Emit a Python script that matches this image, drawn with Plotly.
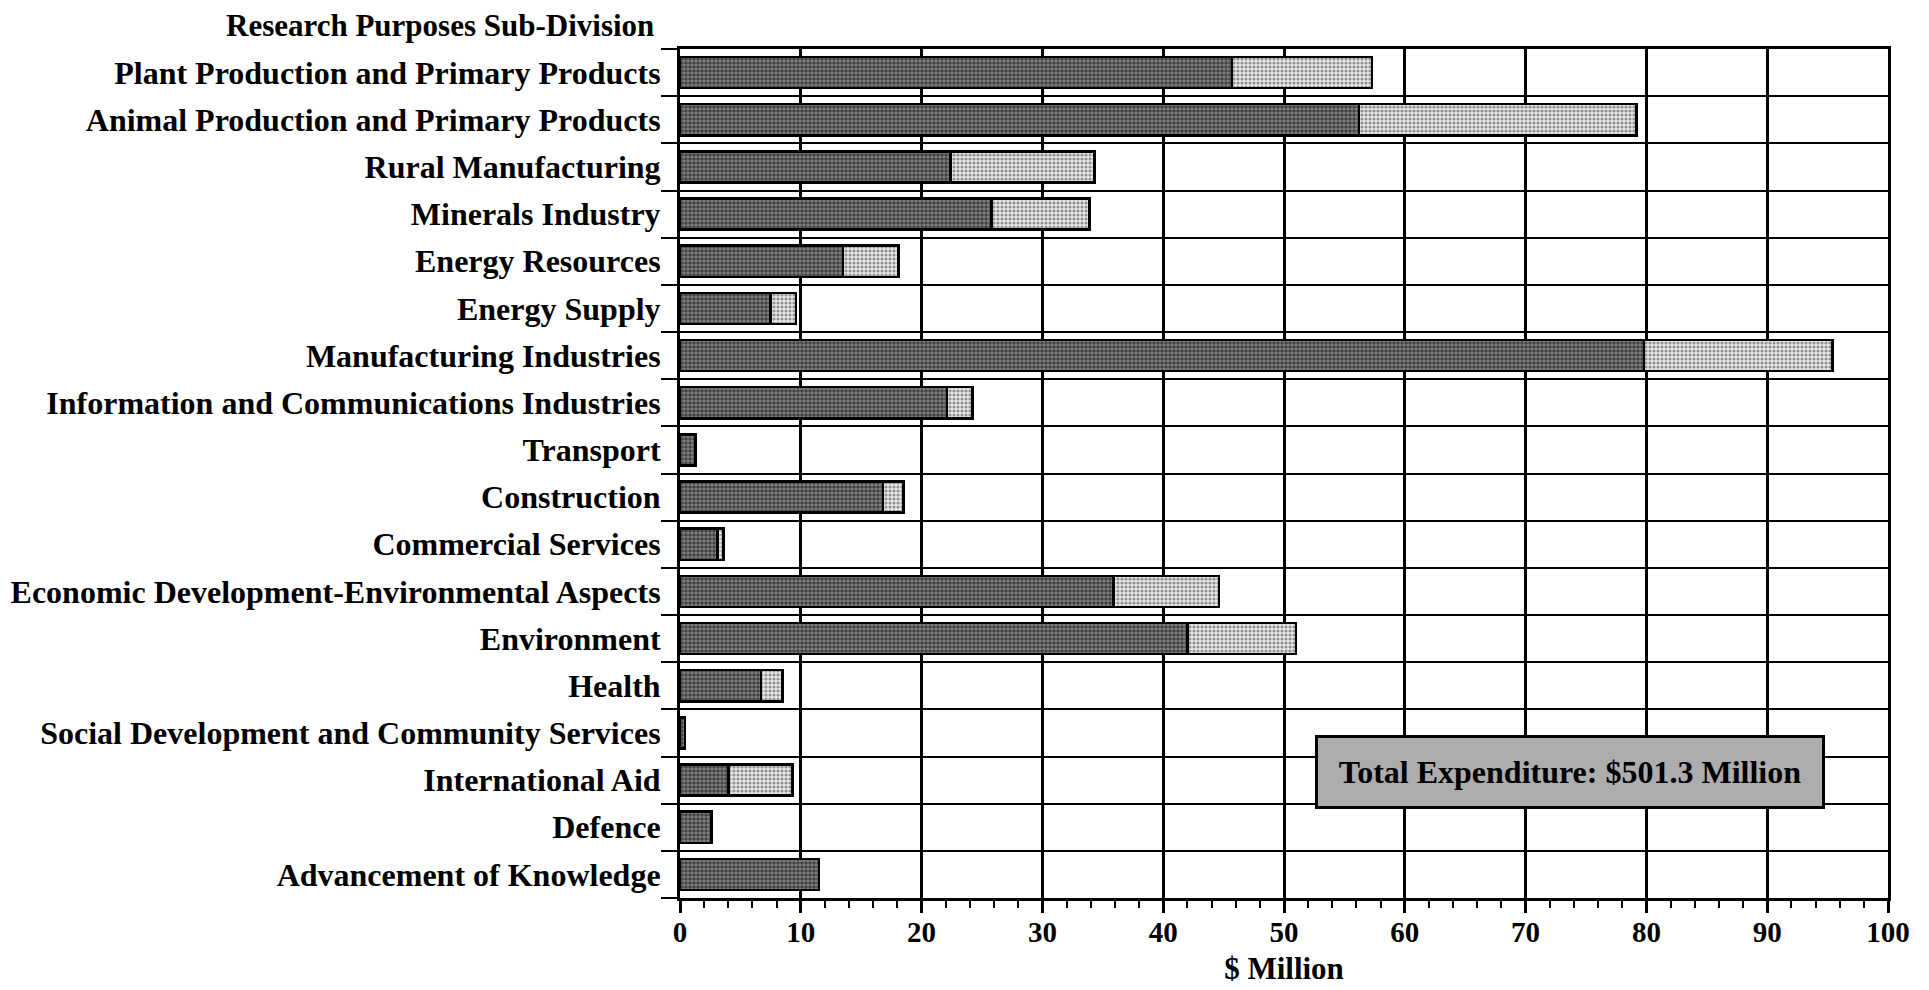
import plotly.graph_objects as go

categories = [
    "Plant Production and Primary Products",
    "Animal Production and Primary Products",
    "Rural Manufacturing",
    "Minerals Industry",
    "Energy Resources",
    "Energy Supply",
    "Manufacturing Industries",
    "Information and Communications Industries",
    "Transport",
    "Construction",
    "Commercial Services",
    "Economic Development-Environmental Aspects",
    "Environment",
    "Health",
    "Social Development and Community Services",
    "International Aid",
    "Defence",
    "Advancement of Knowledge",
]
dark_values = [45.7, 56.2, 22.4, 25.8, 13.5, 7.5, 79.8, 22.1, 1.3, 16.8, 3.1, 35.9, 42.0, 6.7, 0.4, 4.0, 2.6, 11.5]
light_values = [11.6, 23.0, 11.9, 8.1, 4.6, 2.1, 15.6, 2.1, None, 1.7, 0.5, 8.7, 9.0, 1.8, None, 5.3, None, None]
x_ticks = [0, 10, 20, 30, 40, 50, 60, 70, 80, 90, 100]
total_text = "Total Expenditure: $501.3 Million"
axis_title = "$ Million"
side_title = "Research Purposes Sub-Division"

FONT = "Liberation Serif, Times New Roman, serif"
pos = list(range(len(categories)))

fig = go.Figure()
fig.add_trace(go.Bar(
    y=pos, x=dark_values, orientation="h", width=0.66,
    marker=dict(color="#7a7a7a", line=dict(color="black", width=2.5),
                pattern=dict(shape=".", fgcolor="#000000", bgcolor="#858585",
                             size=4, solidity=0.62, fillmode="overlay")),
    showlegend=False, hoverinfo="x",
))
fig.add_trace(go.Bar(
    y=pos, x=light_values, orientation="h", width=0.66,
    marker=dict(color="white", line=dict(color="black", width=2.5),
                pattern=dict(shape=".", fgcolor="#3c3c3c", bgcolor="#e8e8e8",
                             size=4, solidity=0.5, fillmode="overlay")),
    showlegend=False, hoverinfo="x",
))

fig.update_layout(
    barmode="stack",
    width=1929, height=990,
    margin=dict(l=672, r=49, t=41, b=100, autoexpand=False),
    plot_bgcolor="white", paper_bgcolor="white",
    font=dict(family=FONT, color="black", size=32, weight="bold"),
    xaxis=dict(
        range=[0, 100], tickvals=x_ticks, showgrid=True, gridcolor="black", gridwidth=2.5,
        showline=True, linecolor="black", linewidth=3, mirror=True,
        ticks="outside", ticklen=12, tickwidth=2.5, tickcolor="black",
        ticklabelstandoff=-6,
        tickfont=dict(family=FONT, size=29, weight="bold"),
        minor=dict(dtick=2, tick0=0, ticks="outside", ticklen=7, tickwidth=2, tickcolor="black", showgrid=False),
        zeroline=False,
        title=dict(text=axis_title, font=dict(family=FONT, size=31, weight="bold"), standoff=11),
        automargin=False,
    ),
    yaxis=dict(
        range=[len(categories) - 0.5, -0.5], tickvals=pos, ticktext=categories,
        showgrid=False, zeroline=False,
        showline=True, linecolor="black", linewidth=3, mirror=True,
        ticks="", ticklabelstandoff=10,
        tickfont=dict(family=FONT, size=32, weight="bold"),
        minor=dict(tick0=0.5, dtick=1, ticks="outside", ticklen=16, tickwidth=2, tickcolor="black",
                   showgrid=True, gridcolor="black", gridwidth=2),
        automargin=False,
    ),
    annotations=[
        dict(text=side_title, xref="paper", yref="paper", x=-0.02, y=1.0275,
             xanchor="right", yanchor="middle", showarrow=False,
             font=dict(family=FONT, size=31, weight="bold")),
        dict(text=total_text, xref="x", yref="y", x=73.7, y=14.82,
             xanchor="center", yanchor="middle", showarrow=False,
             width=504, height=68, borderpad=0, borderwidth=3, bordercolor="black",
             bgcolor="#adadad", font=dict(family=FONT, size=32, weight="bold")),
    ],
)

fig.write_html("out.html")
